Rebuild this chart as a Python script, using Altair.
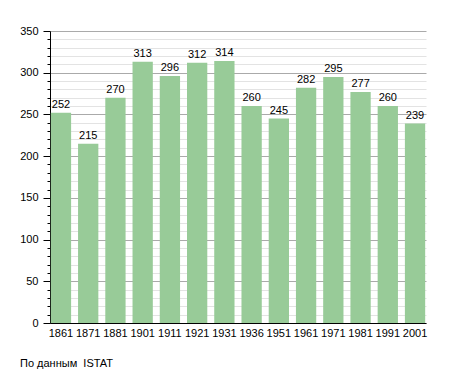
import altair as alt
import pandas as pd

years = ["1861", "1871", "1881", "1901", "1911", "1921", "1931", "1936",
         "1951", "1961", "1971", "1981", "1991", "2001"]
population = [252, 215, 270, 313, 296, 312, 314, 260, 245, 282, 295, 277, 260, 239]
y_ticks = list(range(0, 351, 10))
source_note = "По данным\u00a0 ISTAT"

df = pd.DataFrame({"year": years, "pop": population})

FONT = "Liberation Sans"

x_enc = alt.X("year:N", sort=years, title=None,
              scale=alt.Scale(paddingInner=0.255, paddingOuter=0.03),
              axis=alt.Axis(labelAngle=0, ticks=False, domainColor="#000",
                            labelColor="#000", labelFontSize=11, labelFont=FONT,
                            labelPadding=4, grid=False))
y_enc = alt.Y("pop:Q", title=None,
              scale=alt.Scale(domain=[0, 350], nice=False),
              axis=alt.Axis(values=y_ticks, tickCount=50, labelOverlap=False,
                            labelExpr="datum.value % 50 === 0 ? datum.label : ''",
                            gridColor=alt.condition("datum.value % 50 === 0",
                                                    alt.value("#aaaaaa"), alt.value("#e3e3e3")),
                            tickSize=alt.condition("datum.value % 50 === 0",
                                                   alt.value(7), alt.value(3)),
                            tickColor="#000", domainColor="#000",
                            labelColor="#000", labelFontSize=11, labelFont=FONT,
                            labelPadding=5))

bars = alt.Chart(df).mark_bar(color="#98cb98").encode(x=x_enc, y=y_enc)
labels = alt.Chart(df).mark_text(baseline="bottom", dy=-3, fontSize=11,
                                 font=FONT, color="#000").encode(
    x=alt.X("year:N", sort=years), y="pop:Q", text="pop:Q")

chart = (bars + labels).properties(
    width=376, height=292,
    autosize="none",
    padding={"left": 42, "top": 23, "right": 20, "bottom": 50},
    title=alt.TitleParams(source_note, orient="bottom", anchor="start",
                          frame="group", dx=-30, offset=20, fontSize=11,
                          font=FONT, fontWeight="normal", color="#000"),
).configure_view(stroke=None)

chart.save("out.html", embed_options={"renderer": "svg", "actions": False})
